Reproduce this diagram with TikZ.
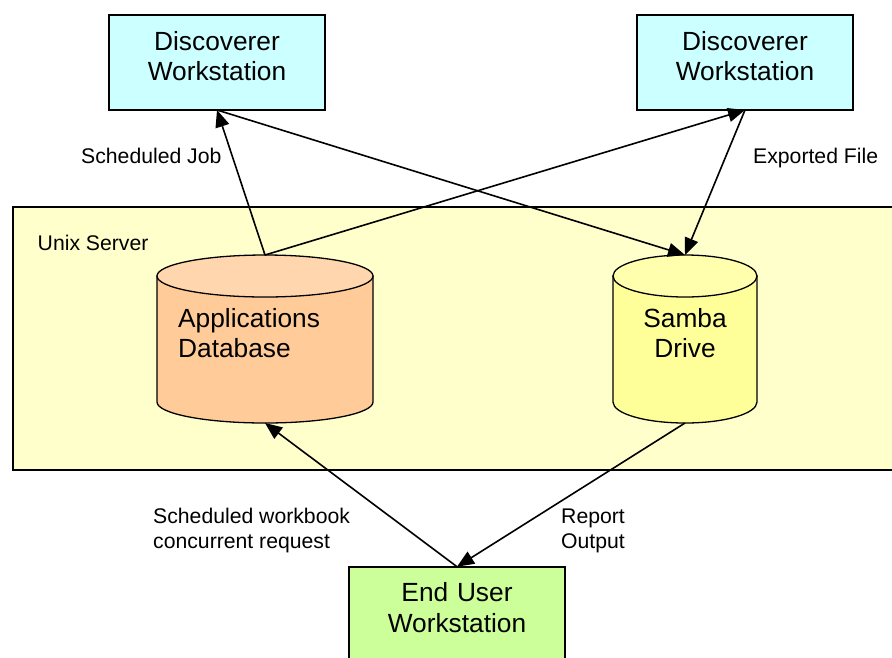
\documentclass[tikz,border=0pt]{standalone}
\usepackage{fontspec}
\setmainfont{Liberation Sans}
\usetikzlibrary{arrows.meta}
\definecolor{wsblue}{HTML}{CCFFFF}
\definecolor{wsgreen}{HTML}{CCFF99}
\definecolor{srv}{HTML}{FFFFCC}
\definecolor{dbbody}{HTML}{FFCC99}
\definecolor{dbtop}{HTML}{FFD6AD}
\definecolor{sbbody}{HTML}{FFFF99}
\definecolor{sbtop}{HTML}{FFFFAD}
\newcommand{\drumshape}[5]{%
  \draw[drumline,fill=#2] ([yshift=-21pt]#1.north west) -- ([yshift=21pt]#1.south west)
    arc[start angle=180,end angle=360,x radius=#4pt,y radius=21pt]
    -- ([yshift=-21pt]#1.north east) -- cycle;
  \draw[drumline,fill=#3] ([yshift=-21pt]#1.north) ellipse[x radius=#4pt,y radius=21pt];
}
\tikzset{
  workstation/.style={draw=black,line width=1.7pt,inner sep=0pt,outer sep=0pt,text width=216pt,align=center,
    text height=35pt,text depth=60pt,anchor=north west,font=\fontsize{26.3}{30.5}\selectfont},
  biglabel/.style={inner sep=0pt,align=left,anchor=base west,font=\fontsize{26.3}{29.5}\selectfont},
  smalllabel/.style={inner sep=0pt,align=left,anchor=base west,font=\fontsize{21.2}{25}\selectfont},
  drumframe/.style={inner sep=0pt,outer sep=0pt,minimum height=168pt},
  drumline/.style={draw=black,line width=1.3pt},
  link/.style={line width=1.6pt,draw=black},
  tipped/.style={link,-{Triangle[length=17pt,width=14pt]}}
}
\begin{document}
\begin{tikzpicture}[x=1pt,y=-1pt]
\useasboundingbox (0,0) rectangle (892,657);
\clip (0,0) rectangle (892,657);
\node[draw=black,line width=1.7pt,fill=srv,inner sep=0pt,outer sep=0pt,minimum width=900pt,minimum height=263pt,anchor=north west] (server) at (13,207.3) {};
\node[smalllabel] (serverlabel) at (37.5,250) {Unix Server};
\node[workstation,fill=wsblue] (wsa) at (109,15) {Discoverer\\Workstation};
\node[workstation,fill=wsblue] (wsb) at (637,15) {Discoverer\\Workstation};
\node[workstation,fill=wsgreen] (wsc) at (349,566.7) {End User\\Workstation};
\node[drumframe,minimum width=216pt] (appdb) at (265,339) {};
\node[drumframe,minimum width=144pt] (samba) at (685,339) {};
\drumshape{appdb}{dbbody}{dbtop}{108}{}
\drumshape{samba}{sbbody}{sbtop}{72}{}
\node[biglabel] (appdblabel) at (178,357) {Applications\\Database};
\node[biglabel,align=center,anchor=base] (sambalabel) at (685,357) {Samba\\Drive};
\node[smalllabel] (joblabel) at (81,163) {Scheduled Job};
\node[smalllabel] (filelabel) at (753,163) {Exported File};
\node[smalllabel] (reqlabel) at (153,548) {Scheduled workbook\\concurrent request};
\node[smalllabel] (outlabel) at (561,548) {Report\\Output};
\draw[tipped] (appdb.north) -- (wsa.south);
\draw[tipped] (appdb.north) -- (wsb.south);
\draw[tipped] (wsa.south) -- (samba.north);
\draw[tipped] (wsb.south) -- (samba.north);
\draw[tipped] (wsc.north) -- (appdb.south);
\draw[tipped] (samba.south) -- (wsc.north);
\end{tikzpicture}
\end{document}
